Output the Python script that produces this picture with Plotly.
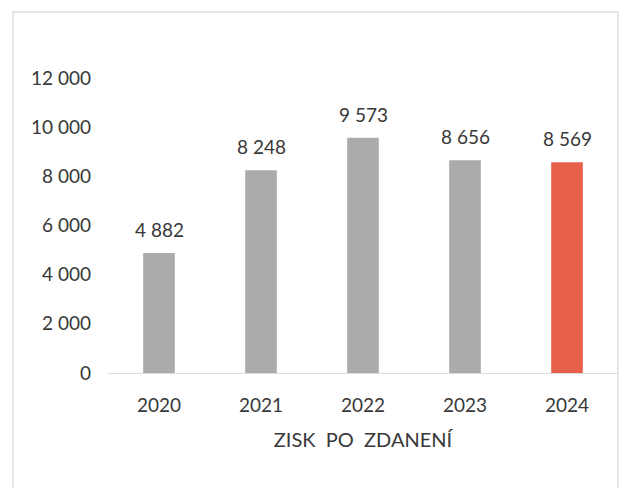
import plotly.graph_objects as go

years = ['2020', '2021', '2022', '2023', '2024']
profit = [4882, 8248, 9573, 8656, 8569]
labels = ['4 882', '8 248', '9 573', '8 656', '8 569']
colors = ['#ABABAB', '#ABABAB', '#ABABAB', '#ABABAB', '#E8604A']
tick_vals = [0, 2000, 4000, 6000, 8000, 10000, 12000]
tick_text = ['0', '2 000', '4 000', '6 000', '8 000', '10 000', '12 000']

font_name = 'Lato'
text_color = '#383838'
fsize = 19

fig = go.Figure()

fig.add_trace(go.Bar(
    x=years,
    y=profit,
    marker=dict(color=colors, line=dict(width=0)),
    showlegend=False,
))

# value labels above the bars (category index, since '2020' would be read as a number)
for i, (val, lab) in enumerate(zip(profit, labels)):
    fig.add_annotation(
        x=i, y=val, text=lab, showarrow=False,
        yanchor='bottom', yshift=10,
        font=dict(family=font_name, size=fsize, color=text_color),
    )

# light frame around the chart, open past the bottom edge
fig.add_shape(
    type='rect', xref='paper', yref='paper',
    x0=-0.186, x1=1.0, y0=-0.5, y1=1.224,
    line=dict(color='#E6E6E6', width=2),
    fillcolor='rgba(0,0,0,0)', layer='below',
)

fig.update_layout(
    width=630, height=488,
    margin=dict(l=100, r=20, t=70, b=123),
    paper_bgcolor='white',
    plot_bgcolor='white',
    bargap=0.69,
    font=dict(family=font_name, size=fsize, color=text_color),
    xaxis=dict(
        type='category',
        range=[-0.5, len(years) - 0.5],
        title=dict(text='ZISK  PO  ZDANENÍ', standoff=18,
                   font=dict(family=font_name, size=fsize + 1, color=text_color)),
        showgrid=False,
        showline=True, linecolor='#DCDCDC', linewidth=1,
        ticks='', ticklabelstandoff=15,
        tickfont=dict(family=font_name, size=fsize, color=text_color),
    ),
    yaxis=dict(
        range=[0, 12000],
        tickvals=tick_vals, ticktext=tick_text,
        showgrid=False, zeroline=False, showline=False,
        ticks='', ticklabelstandoff=16,
        tickfont=dict(family=font_name, size=fsize, color=text_color),
    ),
)

fig.write_html("out.html")
